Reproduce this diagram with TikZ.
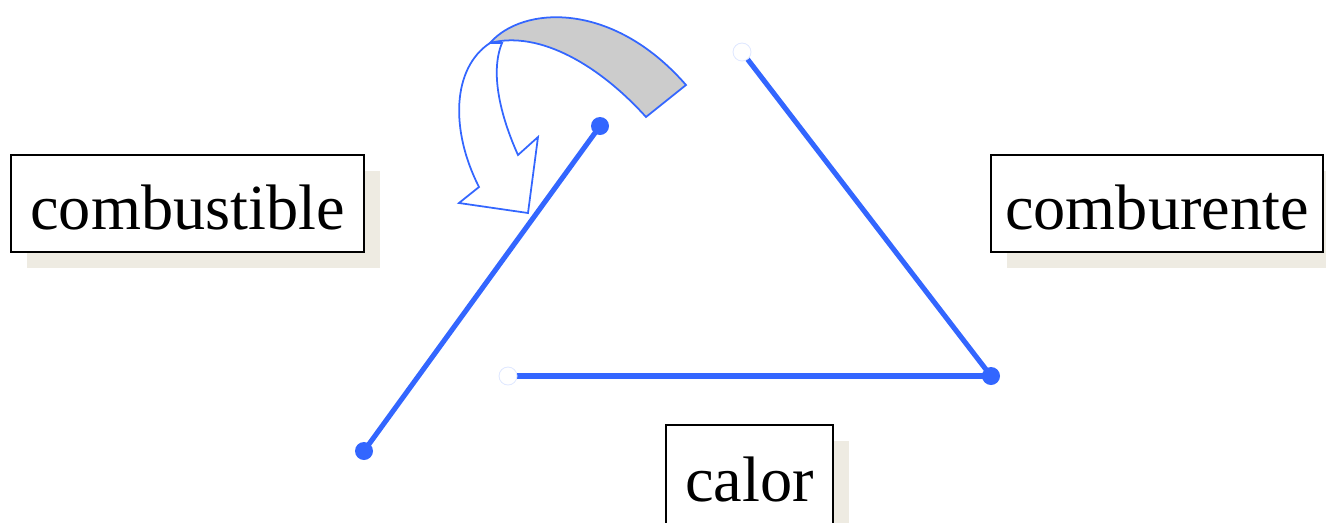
\documentclass[tikz,border=0pt]{standalone}
\usepackage{fontspec}
\setmainfont{Liberation Serif}
\usetikzlibrary{shadows}
\definecolor{lineblue}{HTML}{3366FF}
\definecolor{shadowc}{HTML}{EEEBE2}
\begin{document}
\begin{tikzpicture}[x=0.02cm,y=-0.02cm]
\tikzstyle{box}=[draw,line width=1.1pt,fill=white,inner sep=0pt,text height=29.5pt,text depth=0pt,
  font=\fontsize{36.6}{40}\selectfont,
  copy shadow={shadow xshift=0.32cm,shadow yshift=-0.32cm,fill=shadowc,draw=none}]
\tikzstyle{side}=[line width=2.9pt,lineblue]
\tikzstyle{arrowpart}=[draw=lineblue,line width=1pt,line join=miter]
\useasboundingbox (0,0) rectangle (1326,522);
\clip (0,0) rectangle (1326,522);

\node[box,minimum width=7.06cm,minimum height=1.94cm] (fuel) at (187.5,203.5) {combustible};
\node[box,minimum width=6.64cm,minimum height=1.94cm] (oxid) at (1157,203.5) {comburente};
\node[box,minimum width=3.34cm,minimum height=2.04cm] (heat) at (749.5,476) {calor};

\coordinate (fuelA) at (600,126);
\coordinate (fuelB) at (364,451);
\coordinate (oxA) at (742,52);
\coordinate (oxB) at (991,376);
\coordinate (heatA) at (508,376);

\draw[side] (fuelA) -- (fuelB);
\draw[side] (oxA) -- (oxB);
\draw[side] (heatA) -- (oxB);
\fill[lineblue] (fuelA) circle (9) (fuelB) circle (9) (oxB) circle (9);
\filldraw[fill=white,draw=lineblue!15,line width=0.5pt] (oxA) circle (9) (heatA) circle (9);

\filldraw[arrowpart,fill=white] (490,43) .. controls (452,68) and (450,130) .. (479,187) -- (459,203) -- (528,213)
  -- (538,137) -- (518,155) .. controls (500,115) and (490,72) .. (502,43) -- cycle;
\filldraw[arrowpart,fill=black!20] (490,43) .. controls (522,6) and (612,0) .. (686,85) -- (646,117)
  .. controls (600,66) and (540,30) .. (490,43) -- cycle;
\end{tikzpicture}
\end{document}
